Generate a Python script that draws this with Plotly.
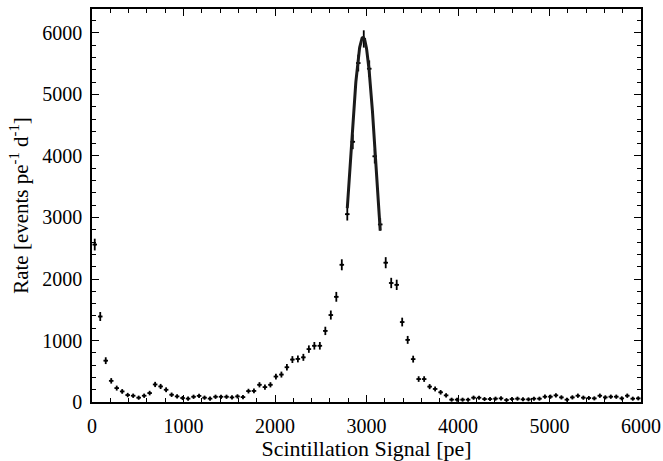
import numpy as np
import plotly.graph_objects as go

# ---- data ----
BIN_WIDTH = 60  # pe
bin_centers = np.arange(30, 6000, BIN_WIDTH)
rates = [
    2560, 1390, 672, 344, 226, 172, 113, 102, 70, 102,
    145, 285, 253, 199, 118, 91, 65, 55, 85, 100,
    70, 55, 85, 85, 85, 75, 91, 80, 177, 180,
    280, 242, 280, 414, 446, 565, 690, 700, 726, 860,
    914, 914, 1156, 1414, 1710, 2231, 3054, 4231, 5511, 5903,
    5419, 3995, 2887, 2265, 1935, 1905, 1300, 1010, 697, 373,
    373, 250, 212, 158, 108, 38, 38, 38, 38, 70,
    70, 48, 48, 54, 59, 32, 48, 54, 43, 43,
    54, 54, 86, 86, 108, 75, 38, 75, 102, 70,
    65, 59, 102, 75, 86, 86, 59, 102, 54, 59,
]
# Gaussian fit of the peak (parameters)
fit_amp = 5930
fit_mean = 2962
fit_sigma = 153
fit_range = (2790, 3150)

rates = np.array(rates, dtype=float)
errors = np.sqrt(900 + 3.2 * rates)

fit_x = np.linspace(fit_range[0], fit_range[1], 200)
fit_y = fit_amp * np.exp(-0.5 * ((fit_x - fit_mean) / fit_sigma) ** 2)

fig = go.Figure()
fig.add_trace(go.Scatter(
    x=bin_centers, y=rates, mode="markers",
    marker=dict(size=2, color="black", symbol="square"),
    error_y=dict(type="data", array=errors, color="black", thickness=1.8, width=0),
    error_x=dict(type="constant", value=25, color="black", thickness=1.8, width=0),
    showlegend=False,
))
fig.add_trace(go.Scatter(
    x=fit_x, y=fit_y, mode="lines",
    line=dict(color="#1a1a1a", width=3),
    showlegend=False,
))

font_family = "Times New Roman, Liberation Serif, DejaVu Serif, serif"
axis_common = dict(
    showline=True, linecolor="black", linewidth=1.5, mirror="ticks",
    ticks="inside", ticklen=7, tickwidth=1.2, tickcolor="black",
    showgrid=False, zeroline=False, automargin=False,
    tickfont=dict(family=font_family, size=20, color="black"),
)
fig.update_xaxes(
    range=[0, 6000], dtick=1000, tick0=0,
    minor=dict(dtick=200, ticks="inside", ticklen=4, tickcolor="black", tickwidth=1),
    ticklabelstandoff=5,
    title=dict(text="Scintillation Signal [pe]", font=dict(family=font_family, size=22, color="black"), standoff=8),
    **axis_common,
)
fig.update_yaxes(
    range=[0, 6390], dtick=1000, tick0=0,
    minor=dict(dtick=200, ticks="inside", ticklen=4, tickcolor="black", tickwidth=1),
    ticklabelstandoff=4,
    title=dict(text="Rate [events pe<sup>-1</sup> d<sup>-1</sup>]", font=dict(family=font_family, size=21, color="black"), standoff=8),
    **axis_common,
)
fig.update_layout(
    width=663, height=461,
    margin=dict(l=92, r=22, t=9, b=59),
    plot_bgcolor="white", paper_bgcolor="white",
    font=dict(family=font_family, color="black"),
)
fig.write_html("out.html")
